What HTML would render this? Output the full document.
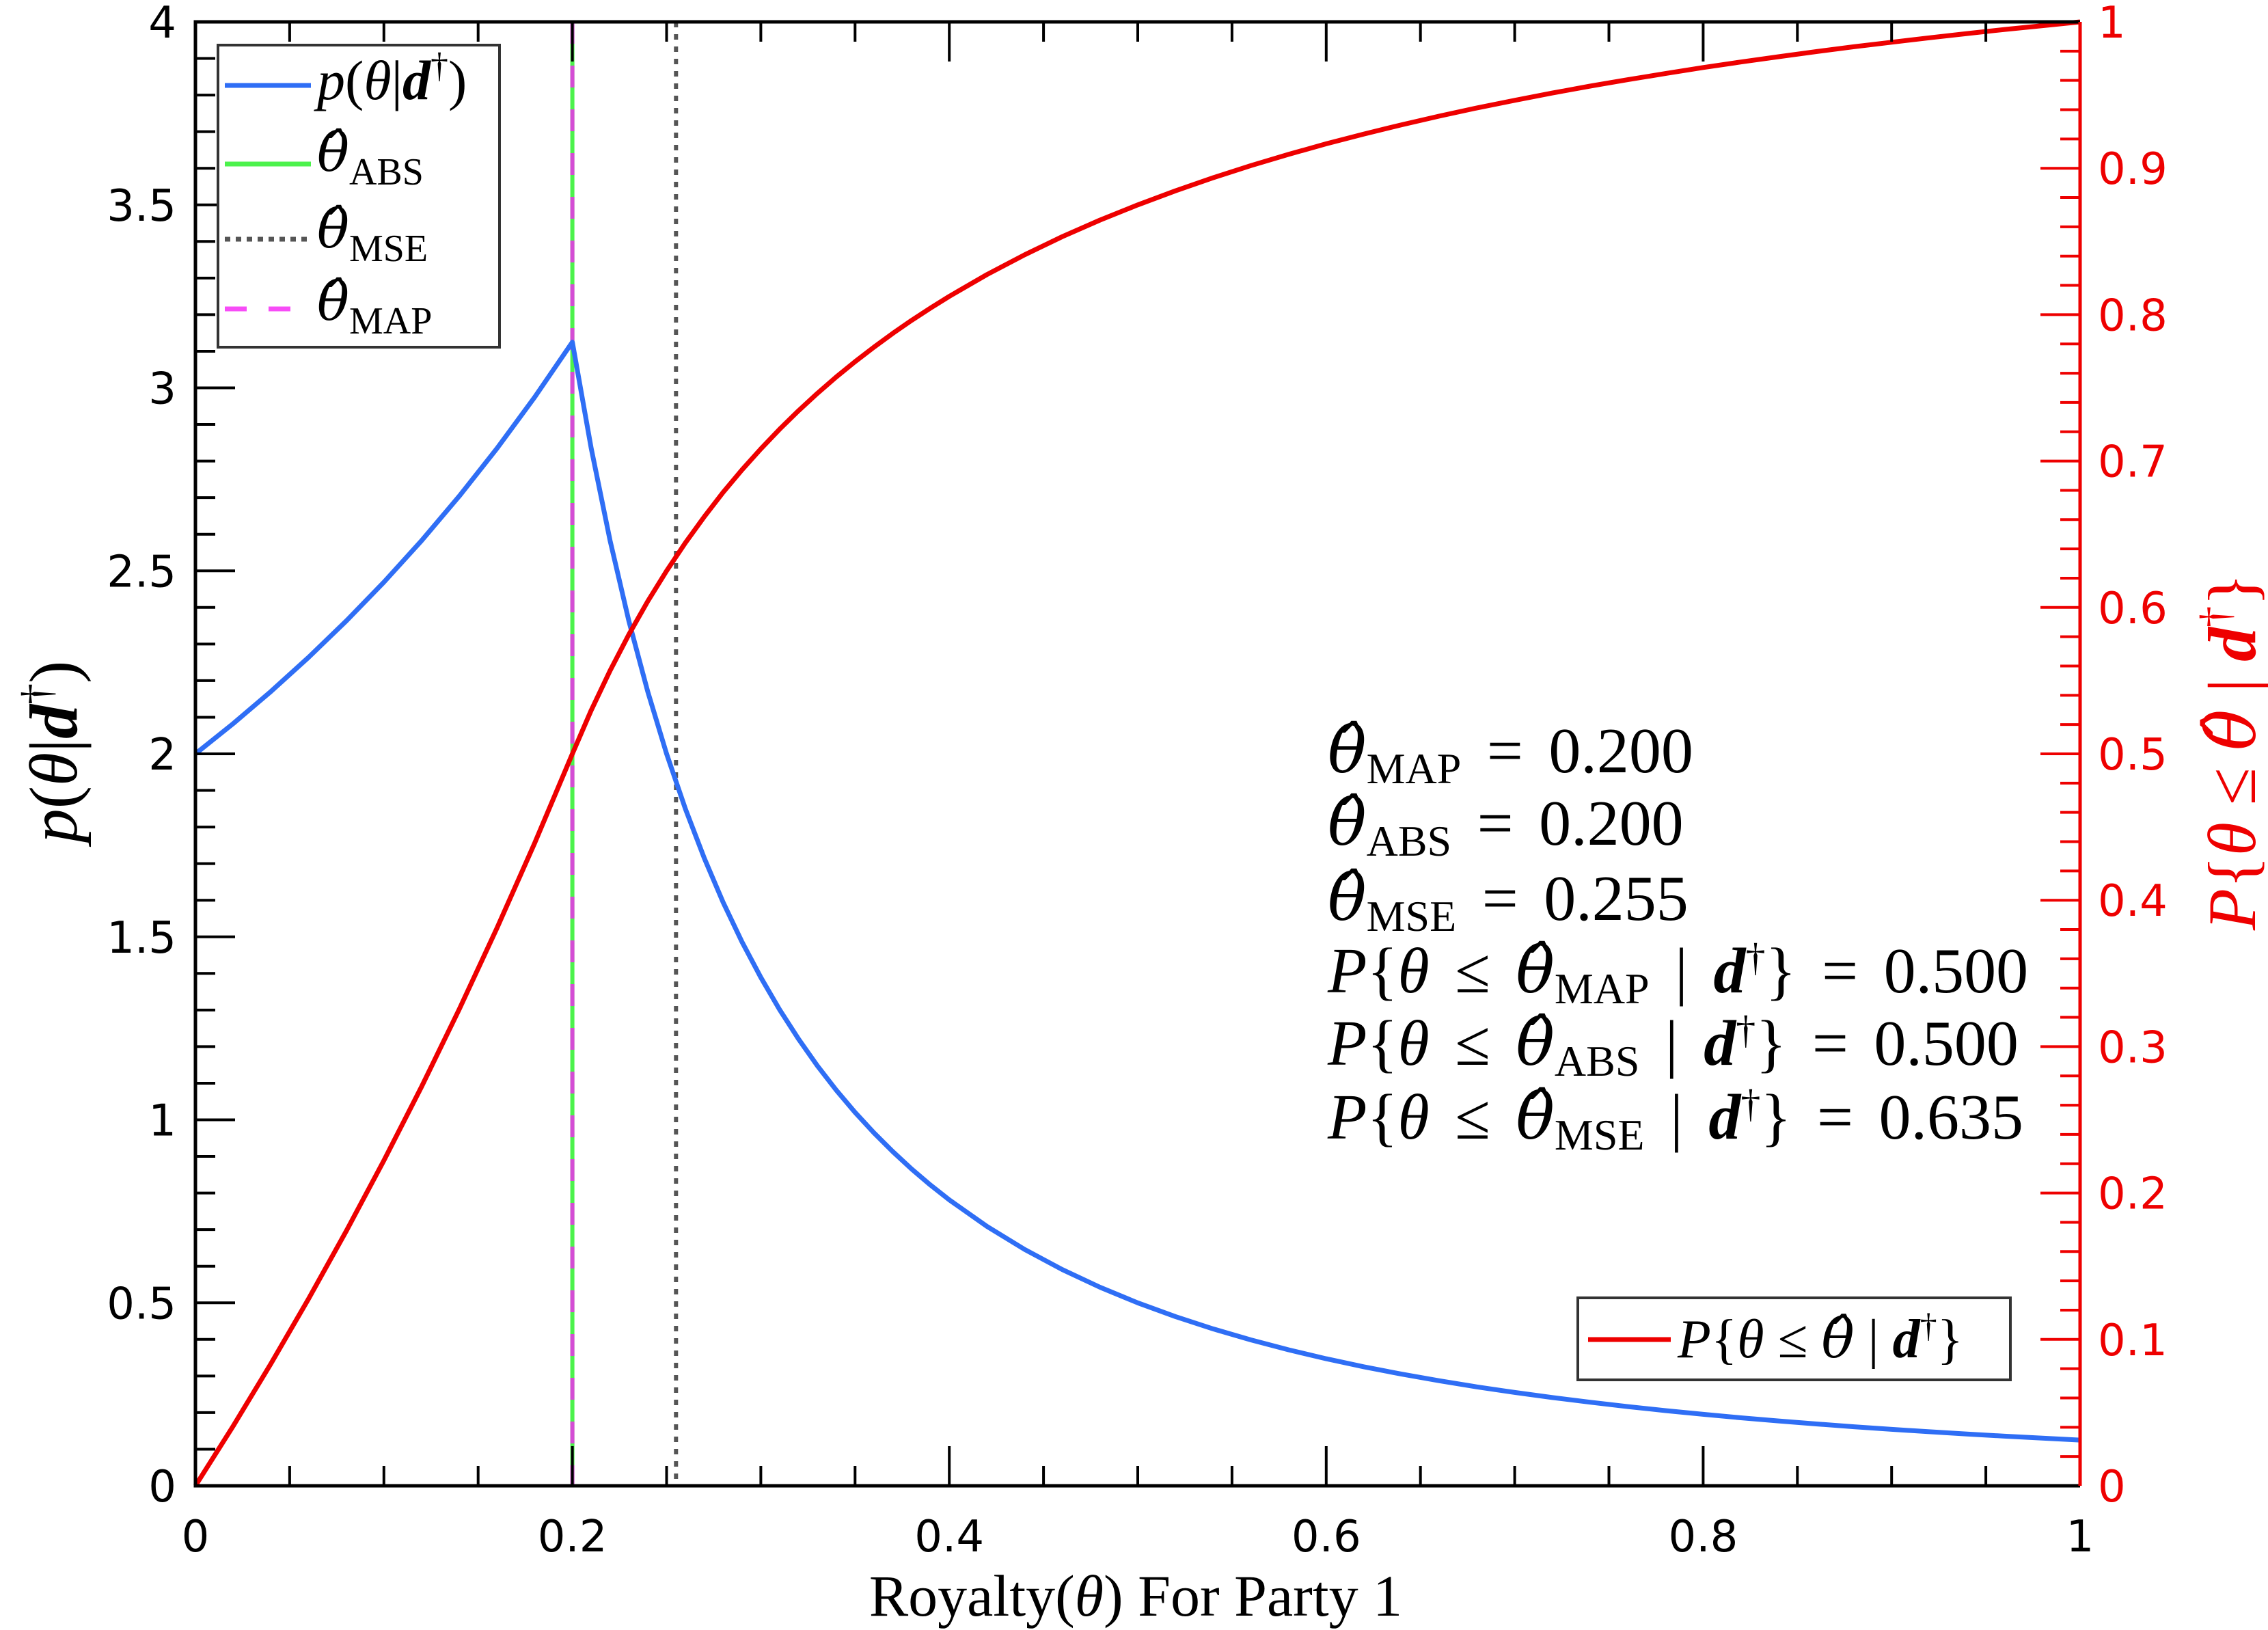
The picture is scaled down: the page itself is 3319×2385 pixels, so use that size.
<!DOCTYPE html>
<html><head><meta charset="utf-8"><style>
html,body{margin:0;padding:0;background:#fff;}
svg{display:block;}
.tk{font-family:"DejaVu Sans","Liberation Sans",sans-serif;font-size:64px;}
.m{font-family:"Liberation Serif","DejaVu Serif",serif;}
.h{font-family:"DejaVu Serif",serif;font-style:italic;}
</style></head><body>
<svg id="chart" width="3319" height="2385" viewBox="0 0 3319 2385" xmlns="http://www.w3.org/2000/svg">
<rect x="0" y="0" width="3319" height="2385" fill="#fff"/>
<g id="marks"></g>
<g id="axes"></g>
<g>
<rect x="319" y="66" width="412" height="442" fill="#fff" stroke="#333" stroke-width="4"/>
<line x1="329" y1="125" x2="455" y2="125" stroke="#2f6ef5" stroke-width="7"/>
<text class="m" x="464" y="145" font-size="82"><tspan font-style="italic">p</tspan>(<tspan font-style="italic">θ</tspan>|<tspan font-style="italic" font-weight="bold">d</tspan><tspan font-size="52" dy="-32">†</tspan><tspan dy="32">)</tspan></text>
<line x1="329" y1="240" x2="455" y2="240" stroke="#4cf24c" stroke-width="7"/>
<text class="m" x="464" y="250" font-size="78"><tspan class="h">θ̂</tspan><tspan font-size="56" dy="20">ABS</tspan></text>
<line x1="329" y1="350" x2="455" y2="350" stroke="#555" stroke-width="7" stroke-dasharray="8,8"/>
<text class="m" x="464" y="362" font-size="78"><tspan class="h">θ̂</tspan><tspan font-size="56" dy="20">MSE</tspan></text>
<line x1="329" y1="452" x2="455" y2="452" stroke="#f74cf7" stroke-width="7" stroke-dasharray="32,32"/>
<text class="m" x="464" y="468" font-size="78"><tspan class="h">θ̂</tspan><tspan font-size="56" dy="20">MAP</tspan></text>
</g>
<g>
<rect x="2309" y="1899" width="633" height="120" fill="#fff" stroke="#333" stroke-width="4"/>
<line x1="2324" y1="1960" x2="2445" y2="1960" stroke="#e00" stroke-width="7"/>
<text class="m" x="2455" y="1986" font-size="80"><tspan font-style="italic">P</tspan>{<tspan font-style="italic">θ</tspan> ≤ <tspan class="h">θ̂</tspan> | <tspan font-style="italic" font-weight="bold">d</tspan><tspan font-size="50" dy="-30">†</tspan><tspan dy="30">}</tspan></text>
</g>
<g class="m" font-size="94" word-spacing="14">
<text x="1943" y="1130"><tspan class="h">θ̂</tspan><tspan font-size="64" dy="16">MAP</tspan><tspan dy="-16"> = 0.200</tspan></text>
<text x="1943" y="1236"><tspan class="h">θ̂</tspan><tspan font-size="64" dy="16">ABS</tspan><tspan dy="-16"> = 0.200</tspan></text>
<text x="1943" y="1346"><tspan class="h">θ̂</tspan><tspan font-size="64" dy="16">MSE</tspan><tspan dy="-16"> = 0.255</tspan></text>
<text x="1943" y="1452"><tspan font-style="italic">P</tspan>{<tspan font-style="italic">θ</tspan> ≤ <tspan class="h">θ̂</tspan><tspan font-size="64" dy="16">MAP</tspan><tspan dy="-16"> | </tspan><tspan font-style="italic" font-weight="bold">d</tspan><tspan font-size="58" dy="-32">†</tspan><tspan dy="32">} = 0.500</tspan></text>
<text x="1943" y="1558"><tspan font-style="italic">P</tspan>{<tspan font-style="italic">θ</tspan> ≤ <tspan class="h">θ̂</tspan><tspan font-size="64" dy="16">ABS</tspan><tspan dy="-16"> | </tspan><tspan font-style="italic" font-weight="bold">d</tspan><tspan font-size="58" dy="-32">†</tspan><tspan dy="32">} = 0.500</tspan></text>
<text x="1943" y="1666"><tspan font-style="italic">P</tspan>{<tspan font-style="italic">θ</tspan> ≤ <tspan class="h">θ̂</tspan><tspan font-size="64" dy="16">MSE</tspan><tspan dy="-16"> | </tspan><tspan font-style="italic" font-weight="bold">d</tspan><tspan font-size="58" dy="-32">†</tspan><tspan dy="32">} = 0.635</tspan></text>
</g>
<text class="m" x="1662" y="2364" font-size="86" text-anchor="middle">Royalty(<tspan font-style="italic">θ</tspan>) For Party 1</text>
<text class="m" font-size="100" text-anchor="middle" transform="translate(112,1100) rotate(-90)"><tspan font-style="italic">p</tspan>(<tspan font-style="italic">θ</tspan>|<tspan font-style="italic" font-weight="bold">d</tspan><tspan font-size="62" dy="-38">†</tspan><tspan dy="38">)</tspan></text>
<text class="m" font-size="100" fill="#e00" text-anchor="middle" transform="translate(3300,1100) rotate(-90)"><tspan font-style="italic">P</tspan>{<tspan font-style="italic">θ</tspan> ≤ <tspan class="h">θ̂</tspan> | <tspan font-style="italic" font-weight="bold">d</tspan><tspan font-size="62" dy="-38">†</tspan><tspan dy="38">}</tspan></text>
</svg>
<script>
const thetaValues = [0,0.02,0.04,0.06,0.08,0.10,0.12,0.14,0.16,0.18,0.20,0.21,0.22,0.23,0.24,0.25,0.26,0.27,0.28,0.29,0.30,0.31,0.32,0.33,0.34,0.35,0.36,0.37,0.38,0.39,0.40,0.42,0.44,0.46,0.48,0.50,0.52,0.54,0.56,0.58,0.60,0.62,0.64,0.66,0.68,0.70,0.72,0.74,0.76,0.78,0.80,0.82,0.84,0.86,0.88,0.90,0.92,0.94,0.96,0.98,1.00];
const pdfValues = [2.000,2.0825,2.1701,2.2635,2.3629,2.4691,2.5826,2.7042,2.8345,2.9744,3.125,2.8345,2.5826,2.3629,2.1701,2.0,1.8491,1.7147,1.5944,1.4863,1.3889,1.3007,1.2207,1.1478,1.0813,1.0204,0.9645,0.9131,0.8657,0.8218,0.78125,0.7086,0.6457,0.5907,0.5425,0.5,0.4623,0.4287,0.3986,0.3716,0.3472,0.3252,0.3052,0.2870,0.2703,0.2551,0.2411,0.2283,0.2164,0.2055,0.1953,0.1859,0.1772,0.1690,0.1614,0.1543,0.1477,0.1415,0.1356,0.1302,0.125];
const cdfValues = [0,0.0408,0.0833,0.1277,0.1739,0.2222,0.2727,0.3256,0.3810,0.4390,0.5,0.5298,0.5568,0.5815,0.6042,0.625,0.6442,0.6620,0.6786,0.6940,0.7083,0.7218,0.7344,0.7462,0.7574,0.7679,0.7778,0.7872,0.7961,0.8045,0.8125,0.8274,0.8409,0.8533,0.8646,0.875,0.8846,0.8935,0.9018,0.9095,0.9167,0.9234,0.9297,0.9356,0.9412,0.9464,0.9514,0.9561,0.9605,0.9647,0.9688,0.9726,0.9762,0.9797,0.9830,0.9861,0.9891,0.9920,0.9948,0.9974,1.0];
const estimateMAP = 0.200;
const estimateABS = 0.200;
const estimateMSE = 0.255;
const xTickLabels = ["0","0.2","0.4","0.6","0.8","1"];
const yLeftTickLabels = ["0","0.5","1","1.5","2","2.5","3","3.5","4"];
const yRightTickLabels = ["0","0.1","0.2","0.3","0.4","0.5","0.6","0.7","0.8","0.9","1"];

const NS="http://www.w3.org/2000/svg";
const L=286,R=3044,T=32,B=2174;
const xs=v=>L+(R-L)*v;
const yl=v=>B-(B-T)*v/4;
const yr=v=>B-(B-T)*v;
const marks=document.getElementById('marks'), axes=document.getElementById('axes');
function mk(tag,attrs,parent){const e=document.createElementNS(NS,tag);for(const k in attrs)e.setAttribute(k,attrs[k]);parent.appendChild(e);return e;}

let e;
e=mk('line',{x1:xs(estimateABS),x2:xs(estimateABS),y1:T,y2:B,stroke:'#4cf24c','stroke-width':6},marks);


e=mk('line',{x1:xs(estimateMAP),x2:xs(estimateMAP),y1:T,y2:B,stroke:'#d44cd4','stroke-width':6,'stroke-dasharray':'32,32'},marks);


e=mk('line',{x1:xs(estimateMSE),x2:xs(estimateMSE),y1:T,y2:B,stroke:'#555','stroke-width':6,'stroke-dasharray':'8,10'},marks);



let dp='',dc='';
thetaValues.forEach((t,i)=>{dp+=(i?'L':'M')+xs(t).toFixed(1)+' '+yl(pdfValues[i]).toFixed(1);dc+=(i?'L':'M')+xs(t).toFixed(1)+' '+yr(cdfValues[i]).toFixed(1);});
e=mk('path',{d:dp,fill:'none',stroke:'#2f6ef5','stroke-width':7,'stroke-linejoin':'round'},marks);


e=mk('path',{d:dc,fill:'none',stroke:'#e00','stroke-width':7,'stroke-linejoin':'round'},marks);



e=mk('path',{d:`M${R} ${T}L${L} ${T}L${L} ${B}L${R} ${B}`,fill:'none',stroke:'#000','stroke-width':5},axes);


e=mk('line',{x1:R,x2:R,y1:T,y2:B,stroke:'#e00','stroke-width':5},axes);



for(let i=0;i<=20;i++){const v=i*0.05,x=xs(v),len=(i%4===0)?58:29;
 if(i>0&&i<20){mk('line',{x1:x,x2:x,y1:B,y2:B-len,stroke:'#000','stroke-width':4},axes);mk('line',{x1:x,x2:x,y1:T,y2:T+len,stroke:'#000','stroke-width':4},axes);}}
xTickLabels.forEach((s,i)=>{const t=mk('text',{x:xs(i*0.2),y:2270,'text-anchor':'middle',class:'tk'},axes);t.textContent=s;

});
for(let i=1;i<40;i++){const y=yl(i*0.1),len=(i%5===0)?58:29;mk('line',{x1:L,x2:L+len,y1:y,y2:y,stroke:'#000','stroke-width':4},axes);}
yLeftTickLabels.forEach((s,i)=>{const t=mk('text',{x:258,y:yl(i*0.5)+23,'text-anchor':'end',class:'tk'},axes);t.textContent=s;

});
for(let i=1;i<50;i++){const y=yr(i*0.02),len=(i%5===0)?58:29;mk('line',{x1:R,x2:R-len,y1:y,y2:y,stroke:'#e00','stroke-width':4},axes);}
yRightTickLabels.forEach((s,i)=>{const t=mk('text',{x:3070,y:yr(i*0.1)+23,'text-anchor':'start',class:'tk',fill:'#e00'},axes);t.textContent=s;

});
</script>
</body></html>
